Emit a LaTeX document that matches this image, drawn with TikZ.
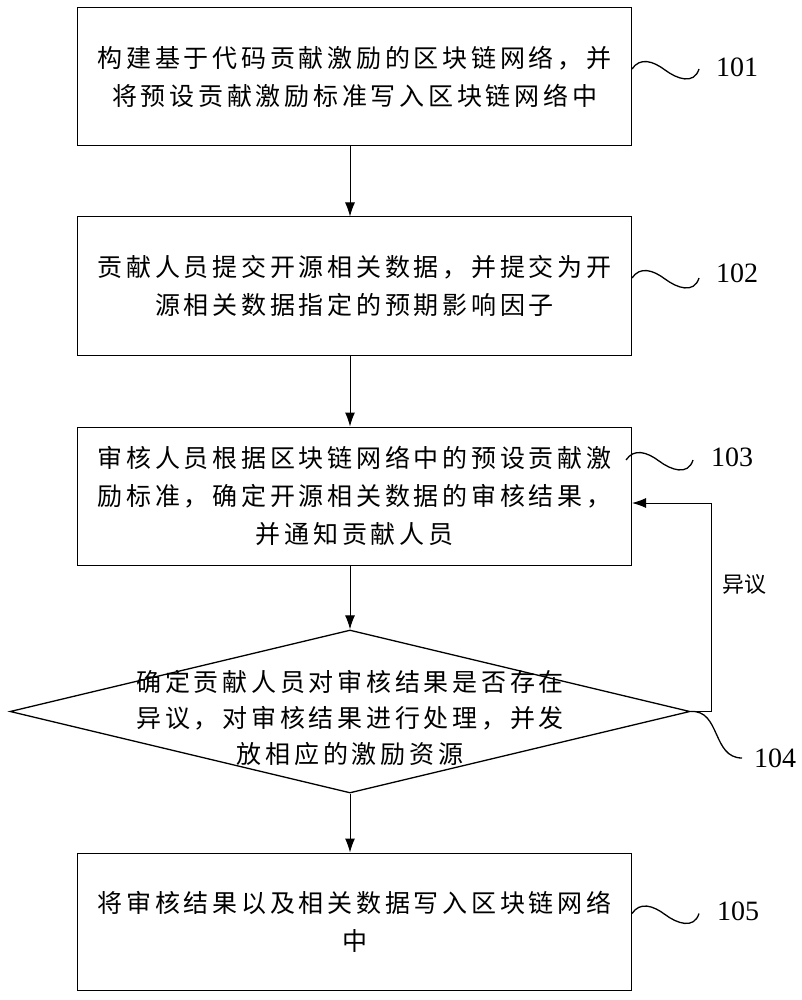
\documentclass[tikz,border=0pt]{standalone}
\usepackage{fontspec}
\setmainfont{Liberation Serif}
\newfontfamily\cjk[LetterSpace=15]{Noto Sans CJK SC}
\newfontfamily\cjkplain{Noto Sans CJK SC}
\usetikzlibrary{shapes.geometric,arrows.meta}
\tikzset{
    stepbox/.style={draw, line width=1pt, minimum width=554pt, inner sep=0pt, align=center, font=\cjk\fontsize{25}{38}\selectfont},
    decision/.style={draw, diamond, line width=1.3pt, minimum width=680pt, minimum height=163pt, inner sep=0pt},
    flow/.style={line width=1pt, -{Latex[length=14pt,width=10pt]}},
    wave/.style={line width=1.3pt},
    tag/.style={anchor=west, inner sep=0pt, font=\fontsize{28}{30}\selectfont}
}
\begin{document}
\begin{tikzpicture}[x=1pt, y=-1pt]
        \useasboundingbox (0, 0) rectangle (802, 1000);
        % steps
        \node[stepbox, minimum height=138pt] (s101) at (354.5, 77) {构建基于代码贡献激励的区块链网络，并\\将预设贡献激励标准写入区块链网络中};
        \node[stepbox, minimum height=138pt] (s102) at (354.5, 286) {贡献人员提交开源相关数据，并提交为开\\源相关数据指定的预期影响因子};
        \node[stepbox, minimum height=138pt] (s103) at (354.5, 496) {审核人员根据区块链网络中的预设贡献激\\励标准，确定开源相关数据的审核结果，\\并通知贡献人员};
        \node[decision] (d104) at (350, 711.5) {};
        \node[align=center, font=\cjk\fontsize{25}{36}\selectfont] (t104) at (350, 718) {确定贡献人员对审核结果是否存在\\异议，对审核结果进行处理，并发\\放相应的激励资源};
        \node[stepbox, minimum height=137pt] (s105) at (354.5, 921.5) {将审核结果以及相关数据写入区块链网络\\中};
        % flow
        \draw[flow] (d104.north |- s101.south) -- (d104.north |- s102.north);
        \draw[flow] (d104.north |- s102.south) -- (d104.north |- s103.north);
        \draw[flow] (d104.north |- s103.south) -- (d104.north);
        \draw[flow] (d104.south) -- (d104.south |- s105.north);
        \draw[flow] (d104.east) -- ++(21, 0) |- ([yshift=-7pt]s103.east);
        \node[font=\cjkplain\fontsize{22}{24}\selectfont] (yiyi) at (744, 584) {异议};
        % reference numbers
        \node[tag] (n101) at (716, 67) {101};
        \node[tag] (n102) at (716, 273) {102};
        \node[tag] (n103) at (711, 457) {103};
        \node[tag] (n104) at (754, 758) {104};
        \node[tag] (n105) at (717, 911) {105};
        \draw[wave] ([yshift=8pt]s101.east) .. controls +(8, -12) and +(-12, -9) .. ++(33, 1) .. controls +(12, 9) and +(-5, 16) .. ++(34, -1);
        \draw[wave] ([yshift=8pt]s102.east) .. controls +(8, -12) and +(-12, -9) .. ++(33, 1) .. controls +(12, 9) and +(-5, 16) .. ++(34, -1);
        \draw[wave] ([xshift=-6pt, yshift=36pt]s103.east) .. controls +(8, -12) and +(-12, -9) .. ++(33, 1) .. controls +(12, 9) and +(-5, 16) .. ++(34, -1);
        \draw[wave] (d104.east) .. controls +(30, -2) and +(-30, 0) .. ([xshift=-12pt]n104.west);
        \draw[wave] ([yshift=8pt]s105.east) .. controls +(8, -12) and +(-12, -9) .. ++(33, 1) .. controls +(12, 9) and +(-5, 16) .. ++(34, -1);
    \end{tikzpicture}
\end{document}
